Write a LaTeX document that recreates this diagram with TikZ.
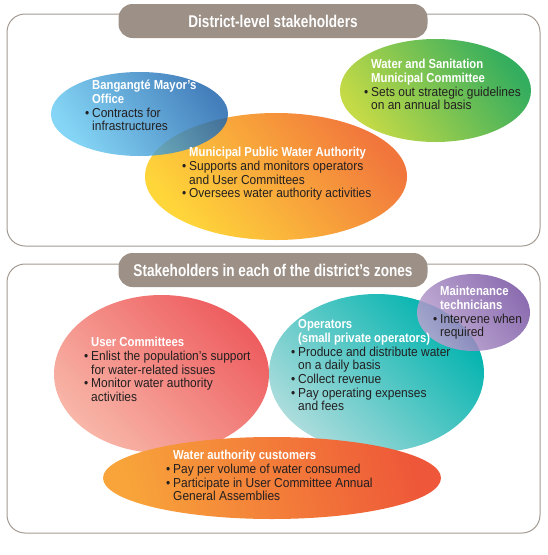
\documentclass[tikz,border=0pt]{standalone}
\usepackage{fontspec}
\setmainfont{Liberation Sans}[FakeStretch=0.92]
\newfontfamily\hdfont{Liberation Sans}[FakeStretch=0.87]
\newfontfamily\ttlfont{Liberation Sans}[FakeStretch=0.8]
\usetikzlibrary{shapes.geometric}
\definecolor{pillc}{HTML}{9C9087}
\definecolor{framec}{HTML}{A39A92}
\definecolor{bodyc}{HTML}{231F20}
\definecolor{blueA}{HTML}{6ACDF4}
\definecolor{blueB}{HTML}{1B63AD}
\definecolor{greenA}{HTML}{C4DA46}
\definecolor{greenB}{HTML}{33AD5E}
\definecolor{orA}{HTML}{FFD63A}
\definecolor{orB}{HTML}{F1763C}
\definecolor{pinkA}{HTML}{F8B6A8}
\definecolor{pinkB}{HTML}{EE5D5F}
\definecolor{tealA}{HTML}{ABDCDC}
\definecolor{tealB}{HTML}{00B3AE}
\definecolor{purA}{HTML}{BBA3D0}
\definecolor{purB}{HTML}{7854A3}
\definecolor{redA}{HTML}{F8A43A}
\definecolor{redB}{HTML}{EE5739}
\newcommand{\bl}{\llap{\textbullet\hspace{3pt}}}
\newcommand{\hd}[1]{{\hdfont\bfseries\color{white}#1}}
\newcommand{\fst}{\rule{0pt}{10.4pt}}
\tikzset{
  frame/.style={draw=framec, line width=1pt, rounded corners=18pt},
  pill/.style={fill=pillc, rounded corners=14pt, inner sep=0pt, text=white,
    minimum width=309pt, minimum height=34pt,
    font=\ttlfont\bfseries\fontsize{17}{18}\selectfont},
  blob/.style={ellipse, inner sep=0pt, draw=none},
  txt/.style={align=left, anchor=north west, inner sep=0pt, text=bodyc,
    font=\fontsize{13}{13.7}\selectfont},
}
\begin{document}
\begin{tikzpicture}[x=1pt, y=-1pt]
\useasboundingbox (0,0) rectangle (548,555);
% frames
\draw[frame] (7,14) rectangle (540,246);
\draw[frame] (7,264) rectangle (540,533);
\node[pill] (t1) at (273,21) {District-level stakeholders};
\node[pill] (t2) at (273,270) {Stakeholders in each of the district’s zones};
% top ellipses
\node[blob, minimum width=262pt, minimum height=127pt, bottom color=orA, top color=orB, shading angle=-50] (mpwa) at (276,176.5) {};
\node[blob, minimum width=191pt, minimum height=103pt, bottom color=greenA, top color=greenB, shading angle=-55] (wsmc) at (435.5,90.5) {};
\node[blob, minimum width=177pt, minimum height=84pt, bottom color=blueA, top color=blueB, shading angle=-55, fill opacity=0.82] (mayor) at (139.5,114) {};
% bottom ellipses
\node[blob, minimum width=215pt, minimum height=158pt, bottom color=pinkA, top color=pinkB, shading angle=-45] (uc) at (161.5,374) {};
\node[blob, minimum width=215pt, minimum height=158pt, bottom color=tealA, top color=tealB, shading angle=-45] (ops) at (376.5,373) {};
\node[blob, minimum width=113pt, minimum height=77pt, bottom color=purA, top color=purB, shading angle=-55, fill opacity=0.85] (mt) at (473.5,312.5) {};
\node[blob, minimum width=338pt, minimum height=82pt, bottom color=redA, top color=redB, shading angle=-75] (wac) at (272,478) {};
% texts
\node[txt] (mayortxt) at (92,79) {\fst\hd{Bangangté Mayor’s}\\\hd{Office}\\\bl Contracts for\\infrastructures};
\node[txt] (wsmctxt) at (371,58) {\fst\hd{Water and Sanitation}\\\hd{Municipal Committee}\\\bl Sets out strategic guidelines\\on an annual basis};
\node[txt] (mpwatxt) at (189,146) {\fst\hd{Municipal Public Water Authority}\\\bl Supports and monitors operators\\and User Committees\\\bl Oversees water authority activities};
\node[txt] (uctxt) at (91,336) {\fst\hd{User Committees}\\\bl Enlist the population’s support\\for water-related issues\\\bl Monitor water authority\\activities};
\node[txt] (opstxt) at (298,318) {\fst\hd{Operators}\\\hd{(small private operators)}\\\bl Produce and distribute water\\on a daily basis\\\bl Collect revenue\\\bl Pay operating expenses\\and fees};
\node[txt] (mttxt) at (440,285) {\fst\hd{Maintenance}\\\hd{technicians}\\\bl Intervene when\\required};
\node[txt] (wactxt) at (173,449) {\fst\hd{Water authority customers}\\\bl Pay per volume of water consumed\\\bl Participate in User Committee Annual\\General Assemblies};
\end{tikzpicture}
\end{document}
